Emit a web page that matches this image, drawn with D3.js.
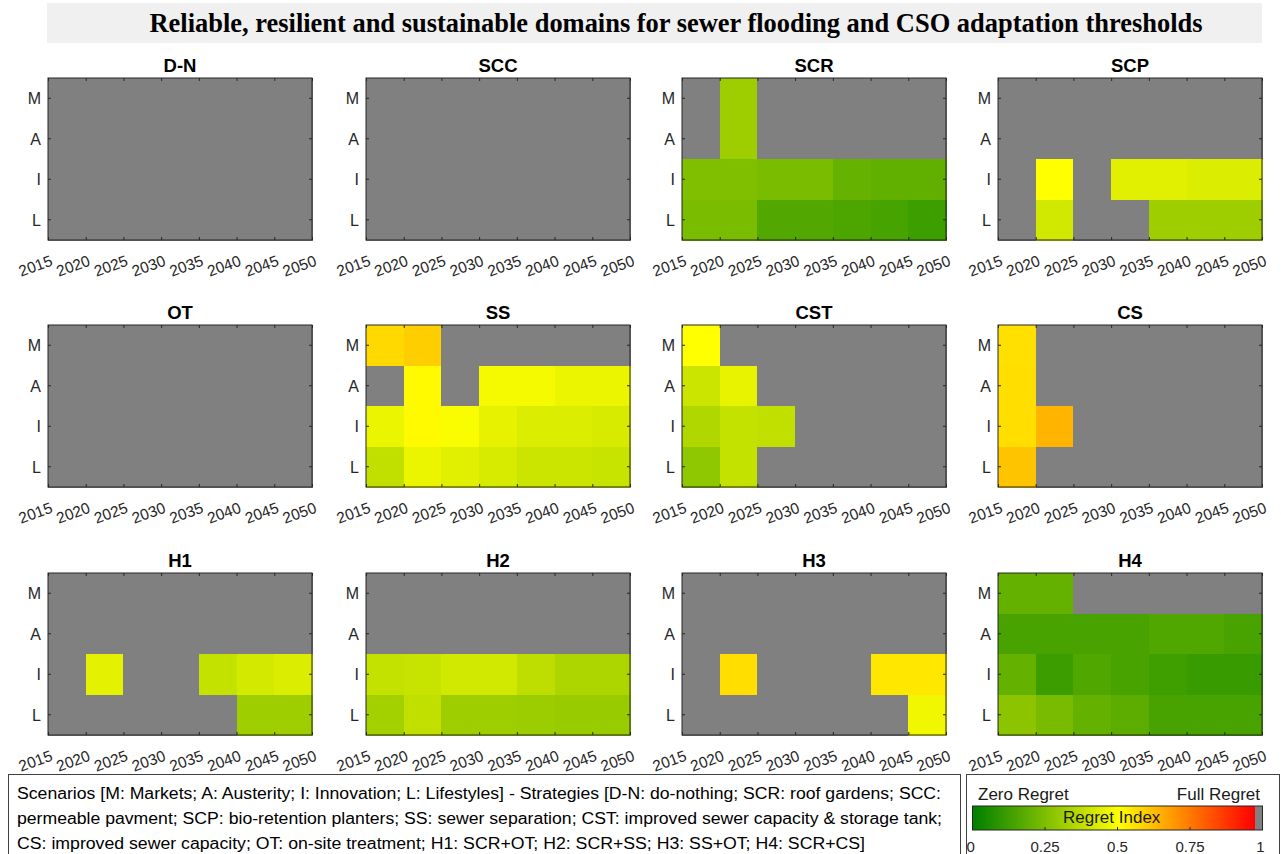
<!DOCTYPE html>
<html><head><meta charset="utf-8">
<script src="https://cdn.jsdelivr.net/npm/d3@7"></script>
<style>body{margin:0;background:#fff} svg{display:block}</style>
</head><body>
<svg id="c" width="1281" height="854"></svg>
<script>
const years = [2015,2020,2025,2030,2035,2040,2045,2050];
const scenarios = ["M","A","I","L"];
const strategies = ["D-N","SCC","SCR","SCP","OT","SS","CST","CS","H1","H2","H3","H4"];
const cbTicks = [0,0.25,0.5,0.75,1];
const _ = null;
// rows: M, A, I, L ; columns: 2015-2020 ... 2045-2050 ; null = not viable (grey)
const DN  = [[_,_,_,_,_,_,_],[_,_,_,_,_,_,_],[_,_,_,_,_,_,_],[_,_,_,_,_,_,_]];
const SCC = [[_,_,_,_,_,_,_],[_,_,_,_,_,_,_],[_,_,_,_,_,_,_],[_,_,_,_,_,_,_]];
const SCR = [[_,0.31,_,_,_,_,_],[_,0.31,_,_,_,_,_],[0.25,0.25,0.24,0.24,0.20,0.19,0.19],[0.24,0.24,0.16,0.16,0.15,0.14,0.12]];
const SCP = [[_,_,_,_,_,_,_],[_,_,_,_,_,_,_],[_,0.50,_,0.44,0.44,0.43,0.43],[_,0.41,_,_,0.31,0.31,0.31]];
const OT  = [[_,_,_,_,_,_,_],[_,_,_,_,_,_,_],[_,_,_,_,_,_,_],[_,_,_,_,_,_,_]];
const SS  = [[0.57,0.59,_,_,_,_,_],[_,0.51,_,0.48,0.48,0.46,0.46],[0.46,0.51,0.49,0.45,0.43,0.43,0.42],[0.38,0.46,0.44,0.42,0.40,0.40,0.39]];
const CST = [[0.50,_,_,_,_,_,_],[0.40,0.455,_,_,_,_,_],[0.345,0.385,0.38,_,_,_,_],[0.28,0.385,_,_,_,_,_]];
const CS  = [[0.557,_,_,_,_,_,_],[0.56,_,_,_,_,_,_],[0.56,0.638,_,_,_,_,_],[0.609,_,_,_,_,_,_]];
const H1  = [[_,_,_,_,_,_,_],[_,_,_,_,_,_,_],[_,0.447,_,_,0.385,0.415,0.43],[_,_,_,_,_,0.31,0.31]];
const H2  = [[_,_,_,_,_,_,_],[_,_,_,_,_,_,_],[0.385,0.39,0.41,0.41,0.37,0.34,0.34],[0.32,0.38,0.31,0.31,0.305,0.30,0.30]];
const H3  = [[_,_,_,_,_,_,_],[_,_,_,_,_,_,_],[_,0.56,_,_,_,0.545,0.545],[_,_,_,_,_,_,0.47]];
const H4  = [[0.196,0.196,_,_,_,_,_],[0.141,0.141,0.141,0.141,0.157,0.157,0.141],[0.196,0.118,0.157,0.141,0.125,0.11,0.11],[0.275,0.235,0.196,0.18,0.141,0.141,0.141]];
const panelData = [DN,SCC,SCR,SCP,OT,SS,CST,CS,H1,H2,H3,H4];

const titleText = "Reliable, resilient and sustainable domains for sewer flooding and CSO adaptation thresholds";
const noteLines = [
 "Scenarios [M: Markets; A: Austerity; I: Innovation; L: Lifestyles] - Strategies [D-N: do-nothing; SCR: roof gardens; SCC:",
 "permeable pavment; SCP: bio-retention planters; SS: sewer separation; CST: improved sewer capacity & storage tank;",
 "CS: improved sewer capacity; OT: on-site treatment; H1: SCR+OT; H2: SCR+SS; H3: SS+OT; H4: SCR+CS]"
];
const noteWidths = [924, 925, 848];

const NAN = "#808080";
const cmap = d3.scaleLinear().domain([0,0.5,0.97]).range(["#007f00","#ffff00","#ff0000"]).clamp(true);
const fill = v => v == null ? NAN : cmap(v);

const svg = d3.select("#c");
const AX = "#262626";
const FONT = "'Liberation Sans', Arial, sans-serif";

// title
svg.append("rect").attr("x",47).attr("y",3).attr("width",1215).attr("height",40).attr("fill","#f0f0f0");
svg.append("text").attr("x",676).attr("y",32).attr("text-anchor","middle")
  .attr("font-family","'Liberation Serif','Times New Roman',serif").attr("font-weight","bold")
  .attr("font-size",27).attr("textLength",1053).attr("lengthAdjust","spacingAndGlyphs")
  .attr("fill","#000").text(titleText);

const colL = [48,366,682,998], rowT = [78,325,573];
const W = 264, H = 162;
const x = d3.scaleLinear().domain([years[0], years[years.length-1]]).range([0,W]);
const y = d3.scaleBand().domain(scenarios).range([0,H]);

strategies.forEach((name,k) => {
  const g = svg.append("g").attr("transform",`translate(${colL[k%4]},${rowT[Math.floor(k/4)]})`);
  const cells = [];
  panelData[k].forEach((row,ri) => row.forEach((v,ci) => cells.push({s:scenarios[ri], a:years[ci], b:years[ci+1], v})));
  g.append("g").attr("shape-rendering","crispEdges").selectAll("rect").data(cells).join("rect")
    .attr("x",d=>x(d.a)).attr("width",d=>x(d.b)-x(d.a)+0.5)
    .attr("y",d=>y(d.s)).attr("height",y.bandwidth()+0.5)
    .attr("fill",d=>fill(d.v));
  // axes
  const bx = g.append("g").attr("transform",`translate(0,${H})`)
    .call(d3.axisBottom(x).tickValues(years).tickFormat(d3.format("d")).tickSize(-3).tickSizeOuter(0));
  g.append("g").call(d3.axisTop(x).tickValues(years).tickFormat("").tickSize(-3).tickSizeOuter(0));
  const ly = g.append("g").call(d3.axisLeft(y).tickSize(-3).tickSizeOuter(0).tickPadding(7));
  g.append("g").attr("transform",`translate(${W},0)`).call(d3.axisRight(y).tickFormat("").tickSize(-3).tickSizeOuter(0));
  g.selectAll(".domain").remove();
  g.selectAll(".tick line").attr("stroke",AX);
  g.selectAll(".tick text").attr("font-family",FONT).attr("fill",AX);
  bx.selectAll("text").attr("font-size",15.5).attr("text-anchor","end").attr("dy",null).attr("x",0).attr("y",0)
    .attr("transform","translate(5,25) rotate(-20)");
  ly.selectAll("text").attr("font-size",16).attr("dy","0.36em");
  g.append("rect").attr("width",W).attr("height",H).attr("fill","none").attr("stroke",AX).attr("stroke-width",1);
  g.append("text").attr("x",W/2).attr("y",-6).attr("text-anchor","middle")
    .attr("font-family",FONT).attr("font-weight","bold").attr("font-size",18.5).attr("fill","#000").text(name);
});

// note box
svg.append("rect").attr("x",8.5).attr("y",774.5).attr("width",952).attr("height",90).attr("fill","#fff").attr("stroke","#404040");
noteLines.forEach((t,i) => {
  svg.append("text").attr("x",17).attr("y",799+i*25).attr("font-family",FONT).attr("font-size",16)
    .attr("textLength",noteWidths[i]).attr("lengthAdjust","spacingAndGlyphs")
    .attr("fill","#000").text(t);
});

// colorbar box
svg.append("rect").attr("x",966.5).attr("y",774.5).attr("width",313).attr("height",90).attr("fill","#fff").attr("stroke","#404040");
const cx = d3.scaleLinear().domain([0,1]).range([972.5,1262.5]);
const steps = d3.range(0,1,1/290);
svg.append("g").attr("shape-rendering","crispEdges").selectAll("rect").data(steps).join("rect")
  .attr("x",d=>cx(d)).attr("width",(cx(1)-cx(0))/290+0.6)
  .attr("y",806).attr("height",24)
  .attr("fill",d=> d >= 0.97 ? NAN : cmap(d));
svg.append("rect").attr("x",cx(0)).attr("y",806).attr("width",cx(1)-cx(0)).attr("height",24).attr("fill","none").attr("stroke",AX);
svg.append("g").selectAll("line").data(cbTicks).join("line")
  .attr("x1",d=>cx(d)).attr("x2",d=>cx(d)).attr("y1",830).attr("y2",827).attr("stroke",AX);
svg.append("text").attr("x",cx(0.48)).attr("y",823).attr("text-anchor","middle").attr("font-family",FONT).attr("font-size",17).attr("fill","#1a1a1a").text("Regret Index");
svg.append("text").attr("x",978).attr("y",800).attr("font-family",FONT).attr("font-size",17).attr("fill","#1a1a1a").text("Zero Regret");
svg.append("text").attr("x",1260).attr("y",800).attr("text-anchor","end").attr("font-family",FONT).attr("font-size",17).attr("fill","#1a1a1a").text("Full Regret");
svg.append("g").selectAll("text").data(cbTicks).join("text")
  .attr("x",d=>cx(d)).attr("y",852)
  .attr("text-anchor",(d,i)=> i===0 ? "start" : (i===cbTicks.length-1 ? "end" : "middle"))
  .attr("dx",(d,i)=> i===0 ? -6 : (i===cbTicks.length-1 ? 2 : 0))
  .attr("font-family",FONT).attr("font-size",15).attr("fill",AX).text(d=>d3.format("~g")(d));
</script>
</body></html>
